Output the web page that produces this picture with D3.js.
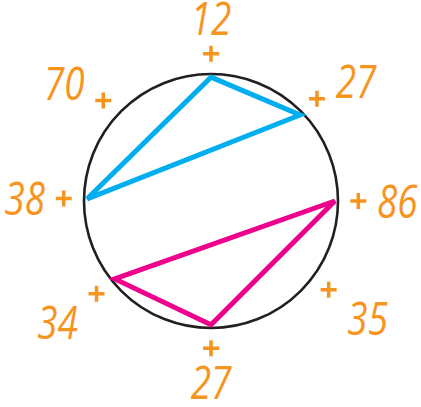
<!DOCTYPE html>
<html>
<head>
<meta charset="utf-8">
<script src="https://cdn.jsdelivr.net/npm/d3@7"></script>
<style>
  body { margin: 0; background: #fff; }
</style>
</head>
<body>
<div id="vis-holder"></div>
<script>
// labels round the circle, clockwise from the top (angles)
let TICK_LABELS = ["12", "27", "86", "35", "27", "34", "38", "70"]
let TICK_ANGLES = [0, 46, 90, 127, 180, 231, 271, 313]

// which ticks each triangle joins
let BLUE_TRIANGLE = [0, 1, 6]
let PINK_TRIANGLE = [2, 5, 4]

var width = 421,
    height = 407,
    cx = 211, cy = 201,
    R = 127;

var svg = d3.select("#vis-holder")
  .append("svg")
    .attr("width", width)
    .attr("height", height)
  .append("g")
    .attr("transform", "translate(" + cx + "," + cy + ")");

var angle = d3.scaleLinear().domain([0, 360]).range([0, 2 * Math.PI]);
var radius = d3.scaleLinear().domain([0, 1]).range([0, R]);

// circle
svg.append("circle")
  .attr("r", radius(1))
  .attr("fill", "none")
  .attr("stroke", "#231f20")
  .attr("stroke-width", 2.6);

// triangles
var line = d3.line().curve(d3.curveLinearClosed);
function tri(idx) {
  return line(idx.map(i => d3.pointRadial(angle(TICK_ANGLES[i]), radius(0.975))));
}
svg.append("path")
  .attr("d", tri(BLUE_TRIANGLE))
  .attr("fill", "none")
  .attr("stroke", "#00aeef")
  .attr("stroke-width", 5)
  .attr("stroke-linejoin", "miter");
svg.append("path")
  .attr("d", tri(PINK_TRIANGLE))
  .attr("fill", "none")
  .attr("stroke", "#ec008c")
  .attr("stroke-width", 5)
  .attr("stroke-linejoin", "miter");

// plus marks
var ticks = svg.append("g")
  .selectAll("g")
  .data(TICK_ANGLES.map((a, i) => ({a: a, label: TICK_LABELS[i]})))
  .enter()
  .append("g")
    .attr("transform", d => {
      var p = d3.pointRadial(angle(d.a), radius(1.16));
      return "translate(" + p[0] + "," + p[1] + ")";
    });

ticks.append("path")
  .attr("d", "M-8,0H8M0,-8V8")
  .attr("stroke", "#f7941d")
  .attr("stroke-width", 3.5);

// labels, pushed off the plus sideways and up/down
ticks.append("text")
  .attr("transform", d => {
    var s = Math.round(Math.sin(angle(d.a)));
    var c = Math.round(Math.cos(angle(d.a)));
    var dx = 39 * s;
    var dy;
    if (c === 0) dy = 1;
    else if (s === 0) dy = -35 * c;
    else dy = c > 0 ? -17 : 29;
    return "translate(" + dx + "," + (dy + 16) + ") scale(0.82,1)";
  })
  .attr("text-anchor", "middle")
  .attr("font-family", "'Open Sans', sans-serif")
  .attr("font-style", "italic")
  .attr("font-size", 45)
  .attr("fill", "#f7941d")
  .text(d => d.label);
</script>
</body>
</html>
